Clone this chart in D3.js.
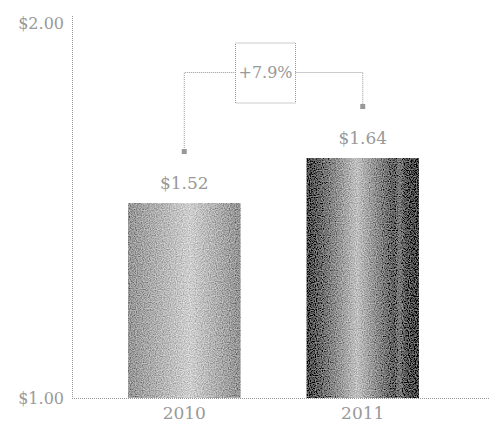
<!DOCTYPE html>
<html>
<head>
<meta charset="utf-8">
<script src="https://cdn.jsdelivr.net/npm/d3@7"></script>
<style>
  body { margin: 0; background: #fff; }
  text { font-family: "DejaVu Serif", serif; fill: #999; }
</style>
</head>
<body>
<svg id="chart"></svg>
<script>
const years = ["2010", "2011"];
const prices = [1.52, 1.64];
const yTicks = [1.00, 2.00];
const change = "+7.9%";

const width = 490;
const height = 422;

const svg = d3.select("#chart")
    .attr("width", width)
    .attr("height", height);

const x = d3.scaleBand()
    .domain(years)
    .range([62, 485])
    .paddingInner(0.37)
    .paddingOuter(0.37);

const y = d3.scaleLinear()
    .domain([1, 2])
    .range([398, 23]);

const defs = svg.append("defs");

// grainy look of the bars
const f = defs.append("filter").attr("id", "grain")
    .attr("x", 0).attr("y", 0).attr("width", 1).attr("height", 1);
f.append("feTurbulence")
    .attr("type", "fractalNoise")
    .attr("baseFrequency", 0.85)
    .attr("numOctaves", 1)
    .attr("seed", 5)
    .attr("result", "noise");
f.append("feColorMatrix")
    .attr("in", "noise")
    .attr("type", "matrix")
    .attr("values", "1 0 0 0 0  1 0 0 0 0  1 0 0 0 0  0 0 0 0 1")
    .attr("result", "gray");
f.append("feComposite")
    .attr("in", "SourceGraphic").attr("in2", "gray")
    .attr("operator", "arithmetic")
    .attr("k1", 0).attr("k2", 1).attr("k3", 0.8).attr("k4", -0.4)
    .attr("result", "mix");
f.append("feComposite")
    .attr("in", "mix").attr("in2", "SourceGraphic")
    .attr("operator", "in");

const gradStops = {
    "2010": [[0, "#959595"], [0.55, "#cecece"], [1, "#929292"]],
    "2011": [[0, "#474747"], [0.45, "#c0c0c0"], [0.78, "#5e5e5e"], [0.83, "#7c7c7c"], [0.88, "#575757"], [1, "#444"]]
};
years.forEach(yr => {
    const g = defs.append("linearGradient").attr("id", "grad" + yr)
        .attr("x1", 0).attr("x2", 1).attr("y1", 0).attr("y2", 0);
    gradStops[yr].forEach(s => g.append("stop").attr("offset", s[0]).attr("stop-color", s[1]));
});

// axes (dotted)
svg.append("line")
    .attr("x1", 72.5).attr("x2", 72.5)
    .attr("y1", 16).attr("y2", y(1))
    .attr("stroke", "#999").attr("stroke-dasharray", "1,1");
svg.append("line")
    .attr("x1", 72).attr("x2", width)
    .attr("y1", y(1) + 0.5).attr("y2", y(1) + 0.5)
    .attr("stroke", "#999").attr("stroke-dasharray", "1,1");

svg.selectAll(".ytick")
    .data(yTicks)
    .enter().append("text")
    .attr("x", 64)
    .attr("y", d => y(d))
    .attr("dy", "0.35em")
    .attr("text-anchor", "end")
    .style("font-size", "16px")
    .text(d => "$" + d.toFixed(2));

// bars
svg.selectAll(".bar")
    .data(years)
    .enter().append("rect")
    .attr("x", d => x(d))
    .attr("y", (d, i) => y(prices[i]))
    .attr("width", x.bandwidth())
    .attr("height", (d, i) => y(1) - y(prices[i]))
    .attr("fill", d => "url(#grad" + d + ")")
    .attr("filter", "url(#grain)");

// value labels
svg.selectAll(".val")
    .data(years)
    .enter().append("text")
    .attr("x", d => x(d) + x.bandwidth() / 2)
    .attr("y", (d, i) => y(prices[i]) - 14)
    .attr("text-anchor", "middle")
    .style("font-size", "17px")
    .text((d, i) => "$" + prices[i].toFixed(2));

// year labels
svg.selectAll(".year")
    .data(years)
    .enter().append("text")
    .attr("x", d => x(d) + x.bandwidth() / 2)
    .attr("y", 419)
    .attr("text-anchor", "middle")
    .style("font-size", "17px")
    .text(d => d);

// change bracket
const cx = years.map(d => x(d) + x.bandwidth() / 2);
const my = prices.map(p => y(p) - 53);
const by = 72.5;
const box = { x0: 235.5, x1: 295.5, y0: 43, y1: 103 };

svg.append("path")
    .attr("d", `M${cx[0]},${my[0]}V${by}H${box.x0}M${box.x1},${by}H${cx[1]}V${my[1]}`)
    .attr("fill", "none").attr("stroke", "#999").attr("stroke-dasharray", "1,1");
svg.append("rect")
    .attr("x", box.x0).attr("y", box.y0)
    .attr("width", box.x1 - box.x0).attr("height", box.y1 - box.y0)
    .attr("fill", "none").attr("stroke", "#999").attr("stroke-dasharray", "1,1");
svg.selectAll(".mark")
    .data(cx)
    .enter().append("rect")
    .attr("x", d => d - 2.5)
    .attr("y", (d, i) => my[i] - 1)
    .attr("width", 5).attr("height", 5)
    .attr("fill", "#999");
svg.append("text")
    .attr("x", (box.x0 + box.x1) / 2)
    .attr("y", by)
    .attr("dy", "0.35em")
    .attr("text-anchor", "middle")
    .style("font-size", "16px")
    .text(change);
</script>
</body>
</html>
